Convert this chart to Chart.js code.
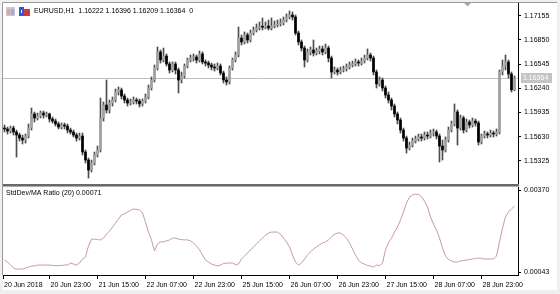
<!DOCTYPE html>
<html>
<head>
<meta charset="utf-8">
<script src="https://cdn.jsdelivr.net/npm/chart.js@4.4.1/dist/chart.umd.min.js"></script>
<style>
html, body { margin: 0; padding: 0; width: 560px; height: 294px; overflow: hidden; background: #f0f0f0; }
#paper { position: absolute; left: 3px; top: 3px; width: 554px; height: 287px; background: #fff; }
canvas { position: absolute; left: 0; }
#mainChart { top: 0; }
#subChart { top: 184px; }
</style>
</head>
<body>
<div id="paper"></div>
<canvas id="mainChart" width="560" height="186"></canvas>
<canvas id="subChart" width="560" height="110"></canvas>
<script>
// EURUSD H1, 20 Jun 2018 08:00 .. 29 Jun 2018 10:00
const symbol = 'EURUSD,H1';
const indicatorName = 'StdDev/MA Ratio (20)';
const indicatorValue = '0.00071';

const priceTicks = [1.15325, 1.15630, 1.15935, 1.16240, 1.16545, 1.16850, 1.17155];
const ratioTicks = [0.00043, 0.00370];
const timeTickBars = [-0.5, 15, 31, 47, 63, 79, 95, 111, 127, 143, 159];
const timeTickLabels = ['20 Jun 2018', '20 Jun 23:00', '21 Jun 15:00', '22 Jun 07:00', '22 Jun 23:00',
    '25 Jun 15:00', '26 Jun 07:00', '26 Jun 23:00', '27 Jun 15:00', '28 Jun 07:00', '28 Jun 23:00'];

const opens = [
    1.15740, 1.15728, 1.15702, 1.15740, 1.15690, 1.15652, 1.15614, 1.15589, 1.15639, 1.15740,
    1.15917, 1.15866, 1.15891, 1.15929, 1.15904, 1.15917, 1.15854, 1.15828, 1.15791, 1.15753,
    1.15778, 1.15765, 1.15715, 1.15690, 1.15652, 1.15614, 1.15639, 1.15438, 1.15337, 1.15211,
    1.15299, 1.15400, 1.15463, 1.15866, 1.16030, 1.15967, 1.16055, 1.16093, 1.16194, 1.16219,
    1.16143, 1.16093, 1.16055, 1.16068, 1.16093, 1.16080, 1.16043, 1.16080, 1.16131, 1.16244,
    1.16345, 1.16496, 1.16698, 1.16597, 1.16647, 1.16547, 1.16471, 1.16547, 1.16471, 1.16345,
    1.16395, 1.16521, 1.16597, 1.16622, 1.16635, 1.16597, 1.16673, 1.16572, 1.16559, 1.16534,
    1.16509, 1.16496, 1.16521, 1.16433, 1.16345, 1.16320, 1.16496, 1.16597, 1.16660, 1.16874,
    1.16824, 1.16912, 1.16849, 1.16937, 1.16975, 1.17000, 1.17013, 1.17010, 1.17025, 1.17000,
    1.17025, 1.17038, 1.17051, 1.17063, 1.17101, 1.17139, 1.17164, 1.17139, 1.16937, 1.16824,
    1.16748, 1.16597, 1.16698, 1.16723, 1.16685, 1.16710, 1.16736, 1.16698, 1.16748, 1.16622,
    1.16446, 1.16471, 1.16446, 1.16471, 1.16484, 1.16509, 1.16534, 1.16547, 1.16572, 1.16559,
    1.16584, 1.16622, 1.16660, 1.16622, 1.16446, 1.16295, 1.16345, 1.16244, 1.16156, 1.16093,
    1.16017, 1.15917, 1.15841, 1.15715, 1.15614, 1.15488, 1.15526, 1.15576, 1.15602, 1.15627,
    1.15614, 1.15652, 1.15639, 1.15677, 1.15690, 1.15639, 1.15513, 1.15463, 1.15589, 1.15715,
    1.15791, 1.15942, 1.15740, 1.15866, 1.15715, 1.15816, 1.15778, 1.15828, 1.15803, 1.15564,
    1.15639, 1.15665, 1.15652, 1.15677, 1.15665, 1.15690, 1.16446, 1.16521, 1.16572, 1.16421,
    1.16222
];
const highs = [
    1.15778, 1.15753, 1.15765, 1.15765, 1.15715, 1.15677, 1.15652, 1.15665, 1.15791, 1.15992,
    1.15942, 1.15929, 1.15954, 1.15954, 1.15942, 1.15929, 1.15879, 1.15854, 1.15816, 1.15803,
    1.15803, 1.15791, 1.15740, 1.15715, 1.15677, 1.15677, 1.15677, 1.15463, 1.15362, 1.15337,
    1.15438, 1.15513, 1.16118, 1.16068, 1.16345, 1.16093, 1.16131, 1.16232, 1.16257, 1.16244,
    1.16169, 1.16118, 1.16106, 1.16131, 1.16118, 1.16106, 1.16106, 1.16169, 1.16282, 1.16383,
    1.16534, 1.16761, 1.16723, 1.16748, 1.16673, 1.16572, 1.16572, 1.16572, 1.16496, 1.16446,
    1.16547, 1.16622, 1.16660, 1.16673, 1.16660, 1.16710, 1.16698, 1.16597, 1.16584, 1.16559,
    1.16547, 1.16559, 1.16547, 1.16458, 1.16383, 1.16521, 1.16622, 1.16698, 1.17013, 1.16912,
    1.16950, 1.16937, 1.16975, 1.17013, 1.17051, 1.17076, 1.17126, 1.17076, 1.17101, 1.17126,
    1.17088, 1.17101, 1.17114, 1.17139, 1.17177, 1.17214, 1.17202, 1.17164, 1.16962, 1.16849,
    1.16773, 1.16736, 1.16761, 1.16849, 1.16748, 1.16773, 1.16773, 1.16799, 1.16773, 1.16647,
    1.16509, 1.16496, 1.16509, 1.16521, 1.16547, 1.16572, 1.16584, 1.16610, 1.16597, 1.16622,
    1.16660, 1.16736, 1.16685, 1.16647, 1.16471, 1.16383, 1.16370, 1.16269, 1.16194, 1.16118,
    1.16043, 1.15942, 1.15866, 1.15740, 1.15639, 1.15564, 1.15614, 1.15639, 1.15665, 1.15665,
    1.15690, 1.15690, 1.15715, 1.15728, 1.15715, 1.15665, 1.15589, 1.15627, 1.15753, 1.15828,
    1.16043, 1.15967, 1.15904, 1.15891, 1.15854, 1.15841, 1.15866, 1.15854, 1.15828, 1.15665,
    1.15702, 1.15690, 1.15715, 1.15702, 1.15728, 1.16471, 1.16597, 1.16660, 1.16597, 1.16446,
    1.16396
];
const lows = [
    1.15690, 1.15665, 1.15677, 1.15652, 1.15375, 1.15576, 1.15539, 1.15551, 1.15614, 1.15715,
    1.15816, 1.15841, 1.15866, 1.15866, 1.15879, 1.15816, 1.15803, 1.15765, 1.15728, 1.15728,
    1.15728, 1.15677, 1.15665, 1.15627, 1.15576, 1.15589, 1.15400, 1.15299, 1.15110, 1.15186,
    1.15274, 1.15375, 1.15438, 1.15828, 1.15929, 1.15929, 1.16017, 1.16068, 1.16156, 1.16106,
    1.16055, 1.16017, 1.16030, 1.16043, 1.16043, 1.16005, 1.16017, 1.16055, 1.16106, 1.16219,
    1.16320, 1.16471, 1.16559, 1.16572, 1.16521, 1.16433, 1.16446, 1.16421, 1.16181, 1.16307,
    1.16370, 1.16496, 1.16572, 1.16584, 1.16559, 1.16572, 1.16547, 1.16521, 1.16496, 1.16471,
    1.16458, 1.16471, 1.16408, 1.16307, 1.16282, 1.16295, 1.16471, 1.16572, 1.16635, 1.16786,
    1.16799, 1.16811, 1.16824, 1.16912, 1.16950, 1.16975, 1.16975, 1.16988, 1.16975, 1.16975,
    1.17000, 1.17013, 1.17025, 1.17038, 1.17076, 1.17114, 1.17101, 1.16912, 1.16786, 1.16710,
    1.16509, 1.16572, 1.16660, 1.16647, 1.16660, 1.16673, 1.16660, 1.16673, 1.16572, 1.16370,
    1.16421, 1.16408, 1.16421, 1.16446, 1.16458, 1.16484, 1.16509, 1.16521, 1.16521, 1.16534,
    1.16559, 1.16597, 1.16584, 1.16408, 1.16244, 1.16269, 1.16206, 1.16118, 1.16055, 1.15967,
    1.15879, 1.15791, 1.15677, 1.15576, 1.15425, 1.15463, 1.15501, 1.15551, 1.15576, 1.15576,
    1.15589, 1.15602, 1.15614, 1.15639, 1.15602, 1.15312, 1.15337, 1.15438, 1.15564, 1.15690,
    1.15765, 1.15526, 1.15715, 1.15677, 1.15690, 1.15740, 1.15753, 1.15765, 1.15526, 1.15539,
    1.15614, 1.15614, 1.15627, 1.15627, 1.15639, 1.15665, 1.16408, 1.16471, 1.16370, 1.16194,
    1.16209
];
const closes = [
    1.15728, 1.15702, 1.15740, 1.15690, 1.15652, 1.15614, 1.15589, 1.15639, 1.15740, 1.15917,
    1.15866, 1.15891, 1.15929, 1.15904, 1.15917, 1.15854, 1.15828, 1.15791, 1.15753, 1.15778,
    1.15765, 1.15715, 1.15690, 1.15652, 1.15614, 1.15639, 1.15438, 1.15337, 1.15211, 1.15299,
    1.15400, 1.15463, 1.15866, 1.16030, 1.15967, 1.16055, 1.16093, 1.16194, 1.16219, 1.16143,
    1.16093, 1.16055, 1.16068, 1.16093, 1.16080, 1.16043, 1.16080, 1.16131, 1.16244, 1.16345,
    1.16496, 1.16698, 1.16597, 1.16647, 1.16547, 1.16471, 1.16547, 1.16471, 1.16345, 1.16395,
    1.16521, 1.16597, 1.16622, 1.16635, 1.16597, 1.16673, 1.16572, 1.16559, 1.16534, 1.16509,
    1.16496, 1.16521, 1.16433, 1.16345, 1.16320, 1.16496, 1.16597, 1.16660, 1.16874, 1.16824,
    1.16912, 1.16849, 1.16937, 1.16975, 1.17000, 1.17013, 1.17010, 1.17025, 1.17000, 1.17025,
    1.17038, 1.17051, 1.17063, 1.17101, 1.17139, 1.17164, 1.17139, 1.16937, 1.16824, 1.16748,
    1.16597, 1.16698, 1.16723, 1.16685, 1.16710, 1.16736, 1.16698, 1.16748, 1.16622, 1.16446,
    1.16471, 1.16446, 1.16471, 1.16484, 1.16509, 1.16534, 1.16547, 1.16572, 1.16559, 1.16584,
    1.16622, 1.16660, 1.16622, 1.16446, 1.16295, 1.16345, 1.16244, 1.16156, 1.16093, 1.16017,
    1.15917, 1.15841, 1.15715, 1.15614, 1.15488, 1.15526, 1.15576, 1.15602, 1.15627, 1.15614,
    1.15652, 1.15639, 1.15677, 1.15690, 1.15639, 1.15513, 1.15463, 1.15589, 1.15715, 1.15791,
    1.15942, 1.15740, 1.15866, 1.15715, 1.15816, 1.15778, 1.15828, 1.15803, 1.15564, 1.15639,
    1.15665, 1.15652, 1.15677, 1.15665, 1.15690, 1.16446, 1.16521, 1.16572, 1.16421, 1.16222,
    1.16364
];
const ratio = [
    0.00092, 0.00084, 0.00072, 0.00060, 0.00056, 0.00056, 0.00056, 0.00060, 0.00064, 0.00068,
    0.00068, 0.00072, 0.00072, 0.00072, 0.00072, 0.00072, 0.00070, 0.00070, 0.00070, 0.00070,
    0.00072, 0.00072, 0.00080, 0.00076, 0.00072, 0.00080, 0.00096, 0.00104, 0.00148, 0.00175,
    0.00175, 0.00173, 0.00172, 0.00179, 0.00195, 0.00207, 0.00223, 0.00239, 0.00255, 0.00271,
    0.00275, 0.00283, 0.00289, 0.00295, 0.00293, 0.00291, 0.00279, 0.00243, 0.00203, 0.00172,
    0.00128, 0.00156, 0.00164, 0.00164, 0.00168, 0.00172, 0.00179, 0.00179, 0.00175, 0.00173,
    0.00172, 0.00172, 0.00168, 0.00160, 0.00148, 0.00132, 0.00112, 0.00092, 0.00084, 0.00076,
    0.00072, 0.00068, 0.00072, 0.00078, 0.00080, 0.00080, 0.00080, 0.00074, 0.00076, 0.00096,
    0.00108, 0.00120, 0.00132, 0.00144, 0.00156, 0.00168, 0.00179, 0.00191, 0.00199, 0.00203,
    0.00203, 0.00203, 0.00195, 0.00179, 0.00164, 0.00144, 0.00112, 0.00084, 0.00072, 0.00080,
    0.00096, 0.00112, 0.00124, 0.00136, 0.00144, 0.00152, 0.00160, 0.00164, 0.00172, 0.00183,
    0.00195, 0.00199, 0.00199, 0.00191, 0.00179, 0.00160, 0.00136, 0.00112, 0.00092, 0.00080,
    0.00076, 0.00070, 0.00068, 0.00064, 0.00072, 0.00070, 0.00080, 0.00132, 0.00160, 0.00179,
    0.00203, 0.00223, 0.00251, 0.00283, 0.00318, 0.00342, 0.00350, 0.00354, 0.00352, 0.00344,
    0.00326, 0.00303, 0.00263, 0.00235, 0.00211, 0.00179, 0.00140, 0.00108, 0.00094, 0.00088,
    0.00084, 0.00084, 0.00088, 0.00090, 0.00092, 0.00094, 0.00096, 0.00098, 0.00100, 0.00098,
    0.00096, 0.00096, 0.00096, 0.00096, 0.00108, 0.00164, 0.00219, 0.00263, 0.00283, 0.00295,
    0.00306
];

const FONT = 'Liberation Sans';
const BULL = '#a2a2a2';
const BEAR = '#000000';
const WICK = '#4c4c4c';
const last = closes.length - 1;

Chart.defaults.font.family = FONT;
Chart.defaults.font.size = 7;
Chart.defaults.color = '#000';

const xRange = { type: 'linear', min: -0.5, max: 171.17, offset: false };

const candleColor = ctx => closes[ctx.dataIndex] >= opens[ctx.dataIndex] ? BULL : BEAR;

const mainDecor = {
    id: 'mainDecor',
    beforeDatasetsDraw(chart) {
        const { ctx, chartArea } = chart;
        const y = Math.round(chart.scales.y.getPixelForValue(closes[last])) + 0.5;
        ctx.save();
        ctx.strokeStyle = '#c0c0c0';
        ctx.lineWidth = 1;
        ctx.beginPath();
        ctx.moveTo(chartArea.left, y);
        ctx.lineTo(chartArea.right, y);
        ctx.stroke();
        ctx.restore();
    },
    afterDraw(chart) {
        const { ctx, chartArea } = chart;
        ctx.save();
        // frame
        ctx.strokeStyle = '#9a9a9a';
        ctx.lineWidth = 1;
        ctx.beginPath();
        ctx.moveTo(2.5, 2.5);
        ctx.lineTo(2.5, chartArea.bottom);
        ctx.moveTo(2.5, 2.5);
        ctx.lineTo(557, 2.5);
        ctx.stroke();

        // icons
        ctx.fillStyle = '#c9c9d6';
        ctx.fillRect(6, 7, 9, 9);
        ctx.fillStyle = '#e8a0a0';
        ctx.fillRect(7, 9, 3, 6);
        ctx.fillStyle = '#a0a8e8';
        ctx.fillRect(11, 9, 3, 6);
        ctx.fillStyle = '#3a55d0';
        ctx.fillRect(19, 7, 5, 9);
        ctx.fillStyle = '#d03a3a';
        ctx.fillRect(24, 9, 6, 7);
        ctx.fillStyle = '#ffffff';
        ctx.fillRect(21, 10, 1, 3);

        // header
        ctx.fillStyle = '#000';
        ctx.font = '7px "' + FONT + '"';
        ctx.textBaseline = 'middle';
        ctx.textAlign = 'left';
        const ohlc = [opens[last], highs[last], lows[last], closes[last]].map(v => v.toFixed(5)).join(' ');
        ctx.fillText(symbol + '  ' + ohlc + '  0', 34, 11);

        // shift marker
        ctx.fillStyle = '#a8a8a8';
        ctx.beginPath();
        ctx.moveTo(464, 3);
        ctx.lineTo(471, 3);
        ctx.lineTo(467.5, 6.5);
        ctx.closePath();
        ctx.fill();

        // bid label
        const y = Math.round(chart.scales.y.getPixelForValue(closes[last]));
        ctx.fillStyle = '#c4c4c4';
        ctx.fillRect(chartArea.right + 3, y - 5, 31, 10);
        ctx.fillStyle = '#ffffff';
        ctx.fillText(closes[last].toFixed(5), chartArea.right + 5, y + 0.5);
        ctx.restore();
    }
};

new Chart(document.getElementById('mainChart'), {
    type: 'bar',
    data: {
        datasets: [
            {
                label: 'wick',
                data: closes.map((c, i) => ({ x: i, y: [lows[i], highs[i]] })),
                backgroundColor: WICK,
                barThickness: 1,
                grouped: false,
                order: 2
            },
            {
                label: 'body',
                data: closes.map((c, i) => ({ x: i, y: [opens[i], c] })),
                backgroundColor: candleColor,
                barThickness: 2,
                minBarLength: 1,
                grouped: false,
                order: 1
            }
        ]
    },
    options: {
        responsive: false,
        animation: false,
        events: [],
        layout: { padding: { left: 3, top: 3, right: 0, bottom: 2 } },
        plugins: { legend: { display: false }, tooltip: { enabled: false } },
        scales: {
            x: Object.assign({}, xRange, { display: false }),
            y: {
                position: 'right',
                min: 1.15035,
                max: 1.17315,
                beginAtZero: false,
                afterBuildTicks: s => { s.ticks = priceTicks.map(v => ({ value: v })); },
                afterFit: s => { s.width = 42; s.paddingTop = 0; s.paddingBottom = 0; },
                grid: { drawOnChartArea: false, tickLength: 3, tickColor: '#000' },
                border: { color: '#000' },
                ticks: { padding: 3, autoSkip: false, callback: v => v.toFixed(5) }
            }
        }
    },
    plugins: [mainDecor]
});

const subDecor = {
    id: 'subDecor',
    afterDraw(chart) {
        const { ctx, chartArea } = chart;
        ctx.save();
        // pane separator
        ctx.fillStyle = '#6a6a6a';
        ctx.fillRect(3, 0, chartArea.right - 2, 2);
        ctx.fillStyle = '#acacac';
        ctx.fillRect(3, 2, chartArea.right - 2, 1);
        ctx.strokeStyle = '#9a9a9a';
        ctx.lineWidth = 1;
        ctx.beginPath();
        ctx.moveTo(2.5, 0);
        ctx.lineTo(2.5, chartArea.bottom);
        ctx.stroke();
        ctx.fillStyle = '#000';
        ctx.font = '7px "' + FONT + '"';
        ctx.textBaseline = 'middle';
        ctx.fillText(indicatorName + ' ' + indicatorValue, 6, 9);
        ctx.restore();
    }
};

new Chart(document.getElementById('subChart'), {
    type: 'line',
    data: {
        datasets: [{
            label: indicatorName,
            data: ratio.map((v, i) => ({ x: i, y: v })),
            borderColor: '#c89a9a',
            borderWidth: 1,
            pointRadius: 0,
            tension: 0
        }]
    },
    options: {
        responsive: false,
        animation: false,
        events: [],
        layout: { padding: { left: 3, top: 3, right: 0, bottom: 0 } },
        plugins: { legend: { display: false }, tooltip: { enabled: false } },
        scales: {
            x: Object.assign({}, xRange, {
                position: 'bottom',
                afterBuildTicks: s => { s.ticks = timeTickBars.map(v => ({ value: v })); },
                afterFit: s => { s.height = 19; s.paddingLeft = 0; s.paddingRight = 0; },
                grid: { drawOnChartArea: false, tickLength: 4, tickColor: '#000' },
                border: { color: '#000' },
                ticks: {
                    align: 'start',
                    labelOffset: 1,
                    padding: 2,
                    maxRotation: 0,
                    autoSkip: false,
                    callback: (v, i) => timeTickLabels[i]
                }
            }),
            y: {
                position: 'right',
                min: 0.000325,
                max: 0.00382,
                afterBuildTicks: s => { s.ticks = ratioTicks.map(v => ({ value: v })); },
                afterFit: s => { s.width = 42; s.paddingTop = 0; s.paddingBottom = 0; },
                grid: { drawOnChartArea: false, tickLength: 3, tickColor: '#000' },
                border: { color: '#000' },
                ticks: { padding: 3, autoSkip: false, callback: v => v.toFixed(5) }
            }
        }
    },
    plugins: [subDecor]
});
</script>
</body>
</html>
